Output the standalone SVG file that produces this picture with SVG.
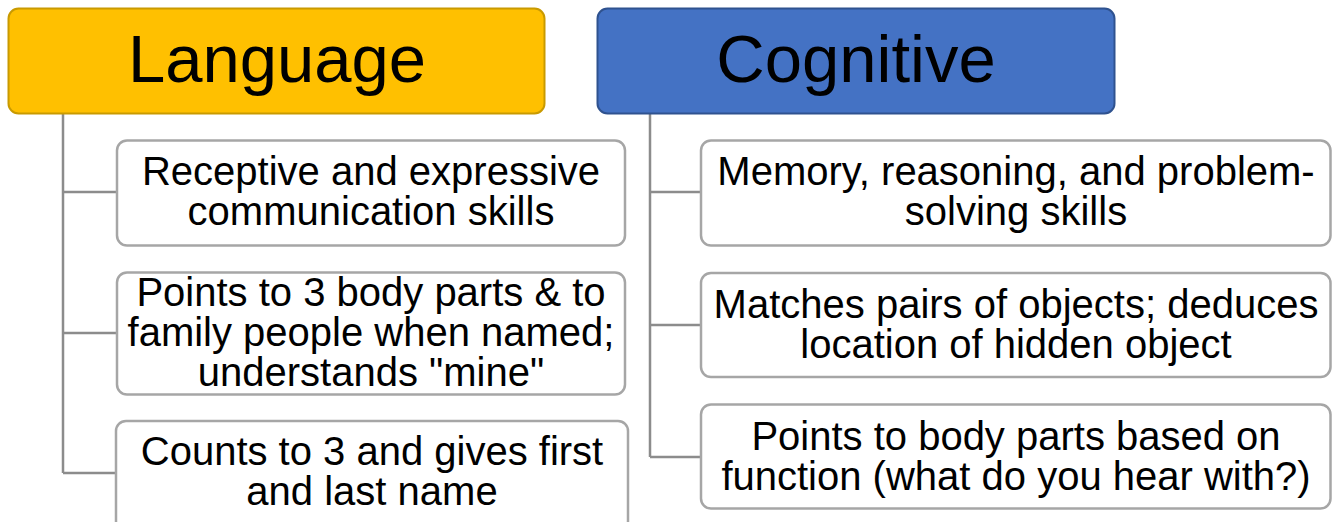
<svg xmlns="http://www.w3.org/2000/svg" width="1332" height="522" viewBox="0 0 1332 522">
<style>
.hdr{font-family:"Liberation Sans",Arial,sans-serif;font-size:67px;fill:#000;text-anchor:middle}
.txt{font-family:"Liberation Sans",Arial,sans-serif;font-size:40px;fill:#000;text-anchor:middle}
.child{fill:#fff;stroke:#A6A6A6;stroke-width:2.5}
.conn{fill:none;stroke:#8C8C8C;stroke-width:2.5}
</style>
<rect width="1332" height="522" fill="#fff"/>
<g id="connectors">
<path class="conn" d="M63 114 V473 M63 192 H117 M63 333 H117 M63 473 H117"/>
<path class="conn" d="M650 114 V457 M650 192 H701 M650 325 H701 M650 457 H701"/>
</g>
<g id="language">
<rect x="8.5" y="8.5" width="536" height="105" rx="10" fill="#FFC000" stroke="#C99A00" stroke-width="2"/>
<text class="hdr" x="277" y="82">Language</text>
</g>
<g id="cognitive">
<rect x="597.5" y="8.5" width="517" height="105" rx="10" fill="#4472C4" stroke="#2F528F" stroke-width="2"/>
<text class="hdr" x="856" y="82">Cognitive</text>
</g>
<g id="lang1">
<rect class="child" x="117" y="140.5" width="508" height="105" rx="10"/>
<text class="txt" x="371" y="185">Receptive and expressive</text>
<text class="txt" x="371" y="225">communication skills</text>
</g>
<g id="lang2">
<rect class="child" x="117" y="272.5" width="508" height="122" rx="10"/>
<text class="txt" x="371" y="306">Points to 3 body parts &amp; to</text>
<text class="txt" x="371" y="346">family people when named;</text>
<text class="txt" x="371" y="386">understands "mine"</text>
</g>
<g id="lang3">
<rect class="child" x="116" y="421" width="512" height="110" rx="10"/>
<text class="txt" x="372" y="465">Counts to 3 and gives first</text>
<text class="txt" x="372" y="505">and last name</text>
</g>
<g id="cog1">
<rect class="child" x="701" y="140.5" width="629.5" height="105" rx="10"/>
<text class="txt" x="1016" y="185">Memory, reasoning, and problem-</text>
<text class="txt" x="1016" y="225">solving skills</text>
</g>
<g id="cog2">
<rect class="child" x="701" y="273" width="629.5" height="104" rx="10"/>
<text class="txt" x="1016" y="318">Matches pairs of objects; deduces</text>
<text class="txt" x="1016" y="358">location of hidden object</text>
</g>
<g id="cog3">
<rect class="child" x="701" y="404.5" width="629.5" height="104" rx="10"/>
<text class="txt" x="1016" y="450">Points to body parts based on</text>
<text class="txt" x="1016" y="490">function (what do you hear with?)</text>
</g>
</svg>
